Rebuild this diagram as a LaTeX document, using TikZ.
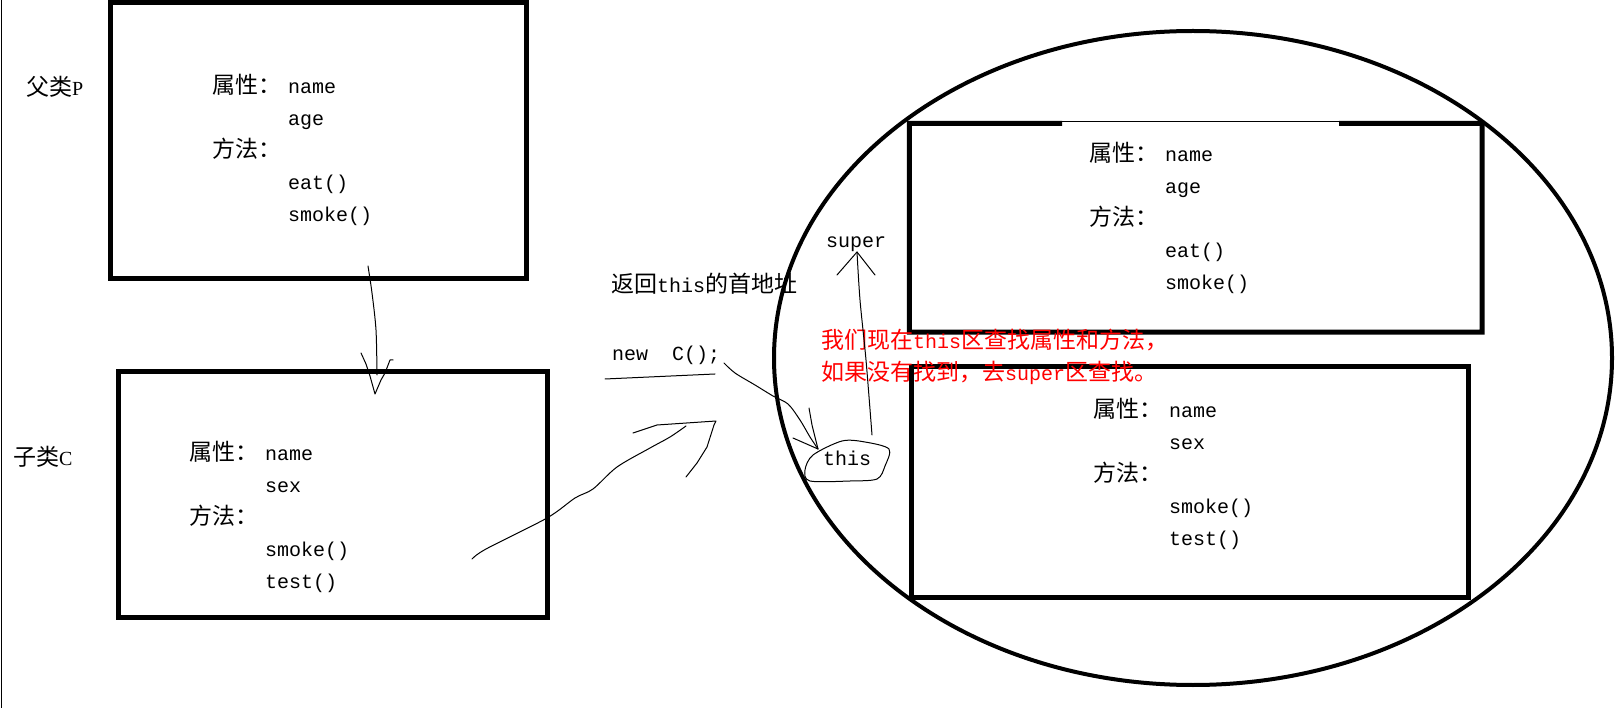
\documentclass[tikz,border=0pt]{standalone}
\usepackage{fontspec}
\setmainfont{Liberation Serif}
\setmonofont{Liberation Mono}
\newfontfamily\cjk{Noto Sans CJK SC}
\usetikzlibrary{shapes.geometric}
\newcommand{\zh}[1]{{\cjk\fontsize{23}{32}\selectfont #1}}
\newcommand{\fld}[2]{\makebox[76pt][l]{\zh{#1}}#2}
\definecolor{notered}{RGB}{255,0,0}
\tikzset{
  box/.style={draw, line width=5pt, inner sep=0pt},
  hand/.style={line width=1pt, line join=round, line cap=round},
  code/.style={font=\ttfamily\fontsize{20}{32}\selectfont, align=left, anchor=base west, inner sep=0pt},
}

\begin{document}
\begin{tikzpicture}[x=1pt, y=-1pt]
    \useasboundingbox (0, 0) rectangle (1623, 708);
    \draw [line width=1pt] (1, 0) -- (1, 708);

    % parent and child classes (base of a text block = its last line)
    \node [box, minimum width=416.5pt, minimum height=276.5pt] (P) at (318.25, 140.75) {};
    \node [box, minimum width=429pt, minimum height=245.5pt] (C) at (333, 494.25) {};
    \node [code] (pLabel) at (26, 96) {\zh{父类}\rmfamily P};
    \node [code] (cLabel) at (13, 465) {\zh{子类}\rmfamily C};
    \node [code] (pText) at (212, 222) {\fld{属性：}{name}\\ \fld{}{age}\\ \fld{方法：}{}\\ \fld{}{eat()}\\ \fld{}{smoke()}};
    \node [code] (cText) at (189, 588) {\fld{属性：}{name}\\ \fld{}{sex}\\ \fld{方法：}{}\\ \fld{}{smoke()}\\ \fld{}{test()}};

    % object in memory
    \node [draw, ellipse, line width=4pt, minimum width=838pt, minimum height=654pt, inner sep=0pt] (heap) at (1193, 358) {};
    \node [inner sep=0pt, minimum width=572.5pt, minimum height=208.5pt] (S) at (1195.75, 227.75) {};
    \coordinate (gapL) at (1062, 123.5);
    \coordinate (gapR) at (1339, 123.5);
    \draw [line width=5pt] (gapL) -- (S.north west) -- (S.south west) -- (S.south east) -- (S.north east) -- (gapR);
    \draw [line width=1pt] (gapL) ++(0, -1.5) -- ([yshift=1.5pt]gapR);
    \node [box, minimum width=557pt, minimum height=230pt] (T) at (1189.5, 482) {};
    \node [code] (sText) at (1089, 290) {\fld{属性：}{name}\\ \fld{}{age}\\ \fld{方法：}{}\\ \fld{}{eat()}\\ \fld{}{smoke()}};
    \node [code] (tText) at (1093, 545) {\fld{属性：}{name}\\ \fld{}{sex}\\ \fld{方法：}{}\\ \fld{}{smoke()}\\ \fld{}{test()}};

    % notes
    \node [code] (ret) at (611, 293) {\zh{返回}this\zh{的首地址}};
    \node [code] (newC) at (612, 361) {new~~C();};
    \node [code] (super) at (826, 248) {super};
    \node [code] (this) at (823, 466) {this};
    \node [code, text=notered] (note) at (821, 381) {\zh{我们现在}this\zh{区查找属性和方法，}\\ \zh{如果没有找到，去}super\zh{区查找。}};

    % hand drawn strokes
    \coordinate (ulL) at (605, 379);
    \coordinate (ulR) at (715, 374);
    \draw [hand] (ulL) -- (ulR);

    \coordinate (pTail) at (368, 266);
    \coordinate (pTip) at (375, 394);
    \draw [hand] plot [smooth] coordinates {(pTail) (372, 293) (376, 330) (377, 375)};
    \draw [hand] (361, 353) -- (366, 364) -- (370, 376) -- (pTip) -- (381, 380) -- (385, 373) -- (390, 360) -- (393, 360);

    \coordinate (cTail) at (472, 559);
    \coordinate (cTip) at (716, 421);
    \draw [hand] plot [smooth] coordinates {(cTail) (486, 549) (547, 518) (575, 498) (593, 489) (617, 467) (650, 448) (670, 437) (686, 426)};
    \draw [hand] (633, 433) -- (657, 425) -- (cTip) -- (714, 425) -- (707, 447) -- (697, 463) -- (686, 477);

    \coordinate (nTail) at (724, 363);
    \coordinate (nTip) at (818, 449);
    \draw [hand] plot [smooth] coordinates {(nTail) (735, 373) (755, 385) (773, 396) (788, 404) (800, 420) (810, 437) (nTip)};
    \draw [hand] (793, 438) -- (nTip);
    \draw [hand] (809, 408) -- (812, 425) -- (nTip);

    \coordinate (tTail) at (872, 435);
    \coordinate (sTip) at (857, 252);
    \draw [hand] plot [smooth] coordinates {(tTail) (866, 360) (860, 300) (sTip)};
    \draw [hand] (837, 275) -- (sTip) -- (875, 275);

    \draw [hand] plot [smooth cycle] coordinates {(805, 470) (813, 455) (842, 441) (865, 442) (889, 449) (885, 466) (877, 479) (850, 481) (810, 481)};
\end{tikzpicture}
\end{document}
